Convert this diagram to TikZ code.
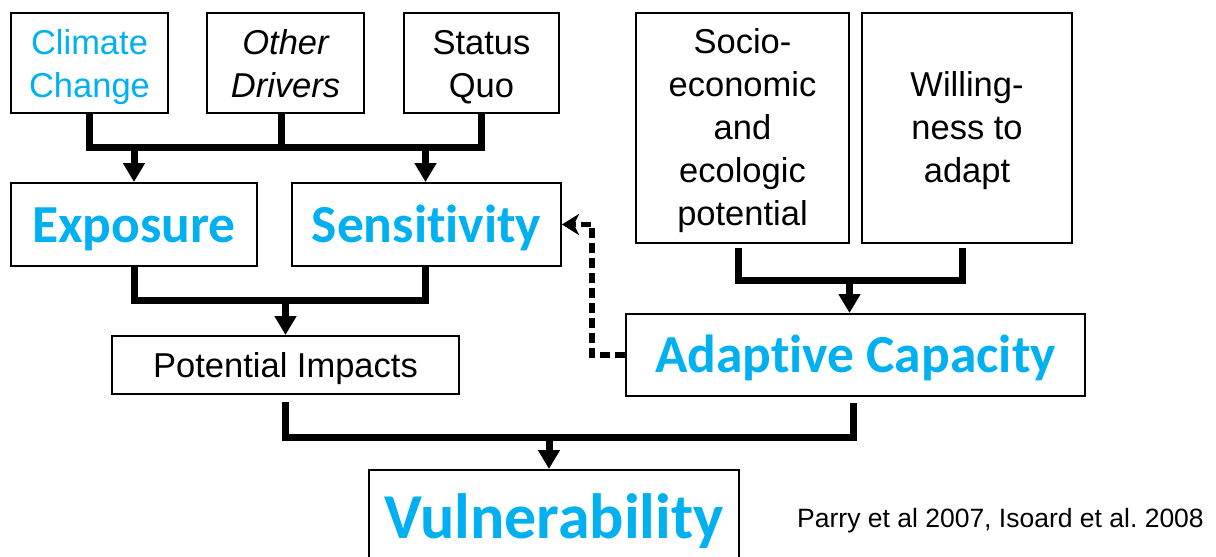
\documentclass[tikz,border=0pt]{standalone}
\usepackage{fontspec}
\setmainfont{Liberation Sans}
\newfontfamily\calibrifont{Carlito}[Ligatures=NoCommon]
\usetikzlibrary{arrows.meta}
\definecolor{skyblue}{RGB}{0,176,240}

\begin{document}
\frenchspacing
\begin{tikzpicture}[x=1pt,y=-1pt,
  box/.style={draw=black, line width=2pt, inner sep=0pt, align=center,
    font=\fontsize{34.5}{43}\selectfont, text depth=7pt},
  bigbox/.style={box, text=skyblue, font=\calibrifont\bfseries\fontsize{53.5}{60}\selectfont,
    text depth=12pt},
  bus/.style={line width=7pt},
  arr/.style={line width=7pt, -{Triangle[width=21pt,length=19pt]}},
  dasharr/.style={line width=5.5pt, dash pattern=on 10pt off 5pt,
    -{Stealth[width=21pt,length=17pt,inset=5pt]}},
]
\useasboundingbox (0,0) rectangle (1216,557);
\fill[white] (0,0) rectangle (1216,557);
\clip (0,0) rectangle (1216,557);

% drivers
\node[box, minimum width=157pt, minimum height=100pt, text height=75pt, text=skyblue] (cc) at (89.5,63) {Climate\\Change};
\node[box, minimum width=157pt, minimum height=100pt, text height=75pt, font=\fontsize{34.5}{43}\selectfont\itshape] (od) at (285.5,63) {Other\\Drivers};
\node[box, minimum width=155pt, minimum height=100pt, text height=75pt] (sq) at (481.5,63) {Status\\Quo};

% exposure and sensitivity
\node[bigbox, minimum width=246pt, minimum height=83pt, text height=47pt] (exp) at (134,224.5) {Exposure};
\node[bigbox, minimum width=269pt, minimum height=83pt, text height=47pt] (sen) at (426.5,224.5) {Sensitivity};

% adaptive capacity inputs
\node[box, minimum width=213pt, minimum height=230pt, text height=201pt] (soc) at (742.5,128) {Socio-\\economic\\and\\ecologic\\potential};
\node[box, minimum width=210pt, minimum height=230pt, text height=115pt] (wil) at (967,128) {Willing-\\ness to\\adapt};

% intermediate results
\node[box, minimum width=347pt, minimum height=58pt, text height=31pt] (pi) at (285.5,365) {Potential Impacts};
\node[bigbox, minimum width=459pt, minimum height=82pt, text height=46pt] (ac) at (855.5,355) {Adaptive Capacity};

% result
\node[bigbox, minimum width=370pt, minimum height=104pt, text height=44pt,
  font=\calibrifont\bfseries\fontsize{64}{70}\selectfont] (vul) at (554,522) {Vulnerability};

\node[anchor=base west, font=\fontsize{26.5}{30}\selectfont, inner sep=0pt] (src) at (797,527) {Parry et al 2007, Isoard et al. 2008};

% bus levels
\coordinate (t1) at (0,147);
\coordinate (t2) at (0,300);
\coordinate (t3) at (0,280);
\coordinate (t4) at (0,437);

% drivers -> exposure / sensitivity
\draw[bus] (cc.south) -- (cc.south |- t1) -- (sq.south |- t1) -- (sq.south);
\draw[bus] ([xshift=-4pt]od.south) -- ([xshift=-4pt]od.south |- t1);
\draw[arr] (exp.north |- t1) -- (exp.north);
\draw[arr] ([xshift=-1pt]sen.north |- t1) -- ([xshift=-1pt]sen.north);

% exposure + sensitivity -> potential impacts
\draw[bus] (exp.south) -- (exp.south |- t2) -- ([xshift=-1pt]sen.south |- t2) -- ([xshift=-1pt]sen.south);
\draw[arr] (pi.north |- t2) -- (pi.north);

% inputs -> adaptive capacity
\draw[bus] ([shift={(-4.5pt,-4pt)}]soc.south) -- ([xshift=-4.5pt]soc.south |- t3)
  -- ([xshift=-5pt]wil.south |- t3) -- ([shift={(-5pt,-4pt)}]wil.south);
\draw[arr] ([xshift=-6pt]ac.north |- t3) -- ([xshift=-6pt]ac.north);

% potential impacts + adaptive capacity -> vulnerability
\draw[bus] ([yshift=-7pt]pi.south) -- (pi.south |- t4) -- ([xshift=-2pt]ac.south |- t4) -- ([shift={(-2pt,-6pt)}]ac.south);
\draw[arr] ([xshift=-5pt]vul.north |- t4) -- ([xshift=-5pt]vul.north);

% feedback of adaptive capacity on sensitivity
\draw[dasharr] (ac.west) -- ++(-33,0) |- (sen.east);
\end{tikzpicture}
\end{document}
